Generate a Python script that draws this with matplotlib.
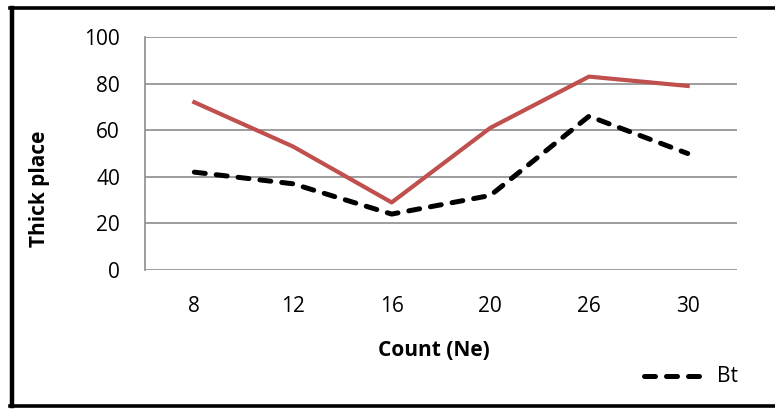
import matplotlib.pyplot as plt
from matplotlib.lines import Line2D

# Thickness by count
counts = ['8', '12', '16', '20', '26', '30']
series_red = [72, 53, 29, 61, 83, 79]
series_bt = [42, 37, 24, 32, 66, 50]
yticks = [0, 20, 40, 60, 80, 100]

plt.rcParams['font.family'] = ['Open Sans', 'DejaVu Sans']

W, H = 775, 409
fig = plt.figure(figsize=(W / 100, H / 100), dpi=100)

dash = (0, (2.2, 2.2))

# plot area
ax = fig.add_axes([145 / W, 1 - 270 / H, (737 - 145) / W, (270 - 37) / H])
x = range(len(counts))
ax.plot(x, series_red, color='#C0504D', lw=3.0, solid_joinstyle='round', zorder=3)
ax.plot(x, series_bt, color='black', lw=3.6, ls=dash,
        dash_capstyle='round', zorder=3)

ax.set_xlim(-0.5, len(counts) - 0.5)
ax.set_ylim(0, 100)
ax.set_xticks(list(x))
ax.set_xticklabels(counts)
ax.set_yticks(yticks)
ax.tick_params(length=0, labelsize=15, colors='black')
ax.tick_params(axis='x', pad=19)
ax.tick_params(axis='y', pad=18)
ax.grid(axis='y', color='#8c8c8c', lw=1.2)
for s in ['top', 'right', 'bottom']:
    ax.spines[s].set_visible(False)
ax.spines['left'].set_color('#8c8c8c')
ax.spines['left'].set_linewidth(1.2)

# axis titles
fig.text(434 / W, 1 - 351 / H, 'Count (Ne)', fontsize=15, fontweight='bold',
         ha='center', va='center')
fig.text(40 / W, 1 - 189 / H, 'Thick place', fontsize=15, fontweight='bold',
         ha='center', va='center', rotation=90)

# legend entry
fig.add_artist(Line2D([644 / W, 706 / W], [1 - 376 / H] * 2, color='black',
                      lw=3.6, ls=dash, dash_capstyle='round'))
fig.text(717 / W, 1 - 376 / H, 'Bt', fontsize=15, va='center', ha='left')

# outer frame
fig.add_artist(Line2D([11.5 / W] * 2, [1 - 8 / H, 1 - 406 / H], color='black', lw=3.2))
fig.add_artist(Line2D([10 / W, 1], [1 - 8 / H] * 2, color='black', lw=2.6))
fig.add_artist(Line2D([10 / W, 1], [1 - 405.5 / H] * 2, color='black', lw=2.6))

fig.savefig('out.png', dpi=100)
